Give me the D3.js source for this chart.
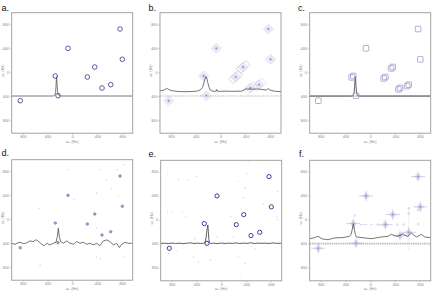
<!DOCTYPE html>
<html><head><meta charset="utf-8">
<script src="https://cdn.jsdelivr.net/npm/d3@7"></script>
<style>body{margin:0;background:#fff}svg{display:block}text{font-family:"Liberation Sans",Arial,sans-serif}</style>
</head><body><svg id="c" width="433" height="295"></svg>
<script>
// ---- data ----
const xTicks = [800, 400, 0, -400, -800];
const yTicks = [-800, -400, 0, 400, 800];
const panelLetters = ["a.", "b.", "c.", "d.", "e.", "f."];
const peaksX = [-775, -812, 68, -365, 274, -245, -483, -624, 230, 841];
const peaksY = [-718, -213, -396, -84, 66, 83, 266, 211, 394, 478];
const baseline = 400;
const specA = [[980,400],[330,400],[300,397],[282,385],[270,340],[262,240],[257,120],[254,78],[250,110],[244,230],[236,330],[225,380],[205,396],[170,400],[-980,400]];
const specB = [[980,312],[930,305],[895,288],[872,272],[850,285],[800,310],[683,325],[550,328],[413,322],[360,312],[320,292],[290,255],[268,180],[248,100],[235,78],[222,100],[205,180],[185,255],[165,300],[130,318],[90,322],[70,316],[62,292],[55,318],[0,322],[-73,318],[-200,322],[-343,318],[-380,300],[-400,282],[-500,286],[-600,282],[-667,290],[-740,300],[-775,276],[-800,300],[-880,320],[-964,326],[-980,326]];
const specC = [[980,400],[320,400],[290,397],[272,385],[260,340],[252,240],[246,120],[240,78],[236,110],[230,230],[222,330],[212,380],[195,396],[160,400],[-980,400]];
const specD = [[980,404],[926,421],[880,395],[846,387],[792,410],[738,398],[684,365],[630,376],[600,355],[576,348],[532,387],[495,421],[451,443],[414,404],[360,432],[306,404],[262,387],[241,293],[225,154],[208,293],[187,376],[144,404],[90,365],[36,404],[-18,421],[-72,376],[-126,404],[-180,387],[-234,421],[-288,404],[-342,432],[-396,404],[-450,443],[-504,365],[-558,348],[-612,376],[-666,432],[-720,404],[-764,476],[-802,421],[-856,387],[-910,404],[-980,404]];
const specE = [[980,398],[920,392],[860,400],[800,390],[740,398],[680,392],[620,400],[560,394],[500,386],[440,398],[380,392],[330,398],[290,394],[262,380],[245,300],[228,150],[216,90],[208,200],[200,330],[190,385],[170,398],[120,392],[60,400],[0,390],[-60,398],[-120,392],[-180,396],[-240,388],[-300,398],[-360,392],[-420,396],[-480,386],[-540,398],[-600,390],[-660,396],[-720,392],[-780,398],[-840,388],[-900,396],[-980,392]];
const specF = [[980,318],[900,300],[845,278],[780,320],[683,335],[600,310],[522,301],[450,300],[387,289],[340,280],[310,250],[292,170],[280,100],[274,78],[266,100],[255,170],[240,250],[225,289],[117,301],[-18,318],[-180,289],[-288,278],[-342,244],[-400,270],[-450,278],[-531,234],[-580,270],[-612,278],[-666,222],[-710,260],[-747,289],[-802,261],[-828,244],[-883,289],[-980,301]];
const faintD = [[-125,-985],[65,-825],[-460,-825],[-830,-900],[-640,-505],[-395,-435],[-30,-330],[535,-175],[-745,-380],[-550,-655],[-395,150],[520,770],[-450,660],[-390,630],[-840,630],[-730,-820]];
const faintE = [[867,-766],[695,-673],[533,-656],[397,-723],[867,-128],[802,-128],[630,-128],[575,-44],[-439,-978],[-413,-766],[-277,-645],[-386,-533],[-915,-473],[-682,-256],[-358,-366],[-159,-56],[-196,289],[73,289],[424,318],[857,568],[721,523],[452,623],[371,706],[181,668],[-277,623],[-305,956],[-386,735],[-548,485],[-899,-44],[-915,0],[-737,873]];
const extraF = [[-540,83],[-440,83],[-780,75],[250,-70],[-120,83],[-624,-190],[-624,-100],[-775,-160]];
const dashF = [[150,83],[110,83],[70,83],[-20,83]];

// ---- layout ----
const svg = d3.select("#c");
const PW = 121, PH = 120.5;
const layout = [
  {left: 11.7, top: 12.7, lx: 1.5, ly: 10.5},
  {left: 160, top: 12.7, lx: 148.5, ly: 10.5},
  {left: 309.7, top: 12.7, lx: 298, ly: 10.5},
  {left: 11.7, top: 159.7, lx: 1.5, ly: 156},
  {left: 160.7, top: 160.3, lx: 148.5, ly: 157},
  {left: 309.7, top: 160.3, lx: 299, ly: 157}
];
const pts = peaksX.map((x, i) => [x, peaksY[i]]);
const lineCol = "#3a3a3a";

layout.forEach((L, i) => {
  const x = d3.scaleLinear().domain([980, -980]).range([L.left, L.left + PW]);
  const y = d3.scaleLinear().domain([-990, 1020]).range([L.top, L.top + PH]);
  const g = svg.append("g");
  const cid = "clip" + i;
  svg.append("clipPath").attr("id", cid).append("rect")
    .attr("x", L.left).attr("y", L.top).attr("width", PW).attr("height", PH);
  const inner = g.append("g").attr("clip-path", `url(#${cid})`);

  // axes
  const ax = g.append("g").attr("transform", `translate(0,${L.top + PH})`)
    .call(d3.axisBottom(x).tickValues(xTicks).tickSize(1.5).tickPadding(1).tickFormat(d => String(d)));
  const ay = g.append("g").attr("transform", `translate(${L.left},0)`)
    .call(d3.axisLeft(y).tickValues(yTicks).tickSize(1.5).tickPadding(1).tickFormat(d => String(d)));
  [ax, ay].forEach(a => {
    a.select(".domain").remove();
    a.selectAll("line").attr("stroke", "#999").attr("stroke-width", 0.5);
    a.selectAll("text").attr("font-size", 3.8).attr("fill", "#888");
  });
  g.append("text").attr("x", L.left + PW / 2).attr("y", L.top + PH + 9.5)
    .attr("text-anchor", "middle").attr("font-size", 3.8).attr("fill", "#888").text("ω₂ (Hz)");
  g.append("text").attr("transform", `translate(${L.left - 8},${L.top + 58}) rotate(-90)`)
    .attr("text-anchor", "middle").attr("font-size", 3.8).attr("fill", "#888").text("ω₁ (Hz)");
  g.append("text").attr("x", L.lx).attr("y", L.ly).attr("font-size", 9).attr("fill", "#111").text(panelLetters[i]);

  const line = d3.line().x(d => x(d[0])).y(d => y(d[1]));
  const hline = (col, w, dash) => inner.append("line")
    .attr("x1", L.left).attr("x2", L.left + PW).attr("y1", y(baseline)).attr("y2", y(baseline))
    .attr("stroke", col).attr("stroke-width", w).attr("stroke-dasharray", dash);

  if (i === 0) {
    inner.append("path").attr("d", line(specA)).attr("fill", "none").attr("stroke", "#555").attr("stroke-width", 0.8);
    inner.selectAll("circle.p").data(pts).join("circle").attr("cx", d => x(d[0])).attr("cy", d => y(d[1]))
      .attr("r", 2.3).attr("fill", "none").attr("stroke", "#4b4b9c").attr("stroke-width", 0.9);
  }
  if (i === 1) {
    hline("#888", 0.6, "1.5,1");
    [[-245, 83], [-365, -84], [-483, 266], [-624, 211]].forEach((p, k) => {
      inner.append("rect").attr("x", -6.5).attr("y", -3.2).attr("width", 13).attr("height", 6.4)
        .attr("transform", `translate(${x(p[0])},${y(p[1])}) rotate(-40)`)
        .attr("fill", "none").attr("stroke", "#b8b8dc").attr("stroke-width", 0.5)
        .attr("stroke-dasharray", k > 1 ? "1.2,0.8" : null);
    });
    pts.forEach(p => {
      [5, 3.5, 2].forEach(s => {
        inner.append("rect").attr("x", -s / 1.414).attr("y", -s / 1.414).attr("width", s * 1.414).attr("height", s * 1.414)
          .attr("transform", `translate(${x(p[0])},${y(p[1])}) rotate(45)`)
          .attr("fill", s === 2 ? "#dcdcf0" : "none").attr("stroke", "#c6c6e6").attr("stroke-width", 0.55);
      });
      inner.append("circle").attr("cx", x(p[0])).attr("cy", y(p[1])).attr("r", 0.9).attr("fill", "#8c8cc6");
    });
    inner.append("path").attr("d", line(specB)).attr("fill", "none").attr("stroke", lineCol).attr("stroke-width", 0.7);
  }
  if (i === 2) {
    hline("#999", 1.2, "1,0.6");
    inner.append("path").attr("d", line(specC)).attr("fill", "none").attr("stroke", lineCol).attr("stroke-width", 0.8);
    pts.forEach((p, k) => {
      const offs = (k >= 3 && k <= 7) ? [[0, 0], [-1.6, 1.4]] : [[0, 0]];
      offs.forEach(o => {
        inner.append("rect").attr("x", x(p[0]) - 2.8 + o[0]).attr("y", y(p[1]) - 2.8 + o[1])
          .attr("width", 5.6).attr("height", 5.6).attr("rx", 0.8)
          .attr("fill", "none").attr("stroke", "#9a9ac8").attr("stroke-width", 0.8);
      });
    });
  }
  if (i === 3) {
    inner.selectAll("circle.f").data(faintD).join("circle").attr("cx", d => x(d[0])).attr("cy", d => y(d[1]))
      .attr("r", 0.6).attr("fill", "#c4c4cc");
    inner.append("path").attr("d", line(specD)).attr("fill", "none").attr("stroke", lineCol).attr("stroke-width", 0.7);
    inner.selectAll("circle.p").data(pts).join("circle").attr("cx", d => x(d[0])).attr("cy", d => y(d[1]))
      .attr("r", 1.3).attr("fill", "#a8a8d8").attr("stroke", "#5a5a9e").attr("stroke-width", 0.5);
  }
  if (i === 4) {
    inner.selectAll("circle.f").data(faintE).join("circle").attr("cx", d => x(d[0])).attr("cy", d => y(d[1]))
      .attr("r", 0.6).attr("fill", (d, k) => k % 5 === 0 ? "#d8d6b0" : "#c4c4cc");
    inner.append("path").attr("d", line(specE)).attr("fill", "none").attr("stroke", lineCol).attr("stroke-width", 0.8);
    inner.selectAll("circle.p").data(pts).join("circle").attr("cx", d => x(d[0])).attr("cy", d => y(d[1]))
      .attr("r", 2.1).attr("fill", "none").attr("stroke", "#3d3d9a").attr("stroke-width", 1);
  }
  if (i === 5) {
    hline("#b8b8c0", 1.6, "1.4,0.8");
    const col = "#b4b4dc";
    inner.append("line").attr("x1", x(-624)).attr("x2", x(-624)).attr("y1", y(-190)).attr("y2", y(500))
      .attr("stroke", col).attr("stroke-width", 0.5).attr("stroke-dasharray", "1,1.5");
    pts.forEach(p => {
      const cx = x(p[0]), cy = y(p[1]);
      inner.append("line").attr("x1", cx - 7).attr("x2", cx + 7).attr("y1", cy).attr("y2", cy).attr("stroke", col).attr("stroke-width", 0.6);
      inner.append("line").attr("x1", cx).attr("x2", cx).attr("y1", cy - 5).attr("y2", cy + 5).attr("stroke", col).attr("stroke-width", 0.6);
      [3.2, 1.8].forEach(s => {
        inner.append("rect").attr("x", -s / 1.414).attr("y", -s / 1.414).attr("width", s * 1.414).attr("height", s * 1.414)
          .attr("transform", `translate(${cx},${cy}) rotate(45)`)
          .attr("fill", s < 2 ? "#c8c8ea" : "none").attr("stroke", col).attr("stroke-width", 0.6);
      });
      inner.append("circle").attr("cx", cx).attr("cy", cy).attr("r", 0.8).attr("fill", "#8c8cc6");
    });
    inner.selectAll("circle.e").data(extraF).join("circle").attr("cx", d => x(d[0])).attr("cy", d => y(d[1]))
      .attr("r", 0.9).attr("fill", "none").attr("stroke", col).attr("stroke-width", 0.5);
    dashF.forEach(d => inner.append("line").attr("x1", x(d[0]) - 1).attr("x2", x(d[0]) + 1).attr("y1", y(d[1])).attr("y2", y(d[1]))
      .attr("stroke", col).attr("stroke-width", 0.6));
    inner.append("path").attr("d", line(specF)).attr("fill", "none").attr("stroke", lineCol).attr("stroke-width", 0.7);
  }

  g.append("rect").attr("x", L.left).attr("y", L.top).attr("width", PW).attr("height", PH)
    .attr("fill", "none").attr("stroke", "#999").attr("stroke-width", 0.9);
});
</script></body></html>
